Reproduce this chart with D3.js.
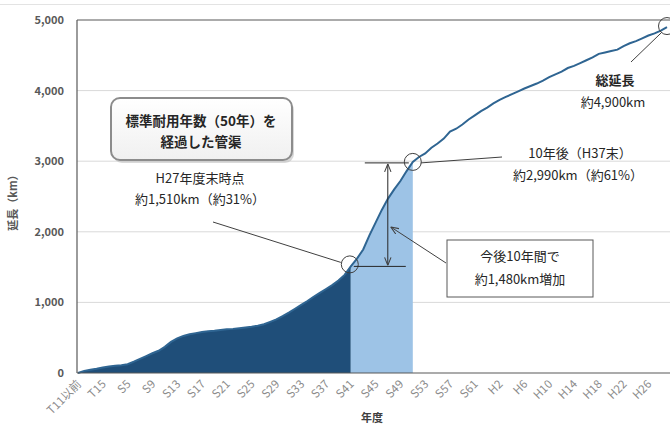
<!DOCTYPE html>
<html><head><meta charset="utf-8">
<script src="https://cdn.jsdelivr.net/npm/d3@7"></script>
<style>
body{margin:0;background:#fff}
svg text{font-family:"Noto Sans CJK JP","Lato",sans-serif}
</style>
</head><body>
<svg id="c" width="670" height="429"></svg>
<script>
// ---- data ----
const categories = ["T11以前","T12","T13","T14","T15",
 "S2","S3","S4","S5","S6","S7","S8","S9","S10","S11","S12","S13","S14","S15","S16","S17","S18","S19","S20",
 "S21","S22","S23","S24","S25","S26","S27","S28","S29","S30","S31","S32","S33","S34","S35","S36","S37","S38","S39","S40",
 "S41","S42","S43","S44","S45","S46","S47","S48","S49","S50","S51","S52","S53","S54","S55","S56","S57","S58","S59","S60",
 "S61","S62","S63","H1","H2","H3","H4","H5","H6","H7","H8","H9","H10","H11","H12","H13","H14","H15","H16","H17","H18",
 "H19","H20","H21","H22","H23","H24","H25","H26","H27","H28"];
// cumulative length (km) at end of each year
const cumulative = [30,45,60,78,92,
 102,110,125,160,200,240,280,315,370,440,490,525,550,565,580,592,600,610,
 618,625,635,645,655,670,690,725,760,805,855,910,965,1020,1080,1135,1190,1245,1310,1390,1510,
 1620,1750,1950,2130,2310,2470,2600,2720,2860,2990,3060,3110,3190,3250,3320,3420,3460,3520,3590,3650,
 3710,3760,3820,3870,3910,3950,3990,4030,4065,4100,4140,4190,4230,4270,4320,4350,4390,4430,4470,4520,
 4540,4560,4580,4630,4670,4700,4740,4780,4810,4850,4900];
const yTicks = [0,1000,2000,3000,4000,5000];
const tickLabels = ["T11以前","T15","S5","S9","S13","S17","S21","S25","S29","S33","S37","S41","S45","S49",
 "S53","S57","S61","H2","H6","H10","H14","H18","H22","H26"];
const cutNow = "S40", cutFuture = "S50";

// ---- chart ----
const svg = d3.select("#c");
const x = d3.scaleBand().domain(categories).range([78, 667]).padding(0);
const bw = x.bandwidth();
const y = d3.scaleLinear().domain([0, 5000]).range([373, 20]);

const pts = [{x: x(categories[0]), v: 0}].concat(categories.map((c, i) => ({x: x(c) + bw, v: cumulative[i], c})));
const iNow = categories.indexOf(cutNow) + 1, iFut = categories.indexOf(cutFuture) + 1;

// outer frame line
svg.append("line").attr("x1", 0).attr("x2", 670).attr("y1", 4.5).attr("y2", 4.5).attr("stroke", "#e3e3e3");

// gridlines
svg.append("g").selectAll("line").data(yTicks.filter(d => d > 0)).join("line")
  .attr("x1", 77).attr("x2", 670).attr("y1", d => y(d)).attr("y2", d => y(d))
  .attr("stroke", d => d === 5000 ? "#595959" : "#d9d9d9").attr("stroke-width", d => d === 5000 ? 1.2 : 1);

const area = d3.area().x(d => d.x).y0(y(0)).y1(d => y(d.v));
svg.append("path").datum(pts.slice(0, iNow + 1)).attr("d", area).attr("fill", "#1f4e79");
svg.append("path").datum(pts.slice(iNow, iFut + 1)).attr("d", area).attr("fill", "#9dc3e6");
svg.append("path").datum(pts).attr("d", d3.line().x(d => d.x).y(d => y(d.v)))
  .attr("fill", "none").attr("stroke", "#2f6592").attr("stroke-width", 2);

// axes
svg.append("line").attr("x1", 77).attr("x2", 670).attr("y1", y(0)).attr("y2", y(0)).attr("stroke", "#595959").attr("stroke-width", 1.2);
svg.append("line").attr("x1", 77).attr("x2", 77).attr("y1", y(5000)).attr("y2", y(0)).attr("stroke", "#595959").attr("stroke-width", 1.2);

const yAxis = svg.append("g").attr("transform", "translate(67,0)")
  .call(d3.axisLeft(y).tickValues(yTicks).tickSize(0).tickFormat(d3.format(",")));
yAxis.select(".domain").remove();
yAxis.selectAll("text").attr("font-size", 11).attr("fill", "#595959").attr("font-family", "Lato,sans-serif").attr("font-weight", "bold");

svg.append("g").selectAll("text").data(tickLabels).join("text")
  .attr("transform", d => `translate(${x(d) + bw / 2 - 2},382) rotate(-45)`)
  .attr("text-anchor", "end").attr("dy", "0.35em")
  .attr("font-size", 11.5).attr("fill", "#8c8c8c").text(d => d);

svg.append("text").attr("transform", "translate(17,200) rotate(-90)").attr("text-anchor", "middle")
  .attr("font-size", 11).attr("font-weight", "bold").attr("fill", "#595959").text("延長（km）");
svg.append("text").attr("x", 372).attr("y", 422).attr("text-anchor", "middle")
  .attr("font-size", 11).attr("font-weight", "bold").attr("fill", "#404040").text("年度");

// ---- annotations ----
const defs = svg.append("defs");
const grad = defs.append("linearGradient").attr("id", "g1").attr("x1", 0).attr("x2", 0).attr("y1", 0).attr("y2", 1);
grad.append("stop").attr("offset", "0%").attr("stop-color", "#ffffff");
grad.append("stop").attr("offset", "100%").attr("stop-color", "#f0f0f0");
defs.append("marker").attr("id", "ah").attr("viewBox", "0 0 10 10").attr("refX", 10).attr("refY", 5)
  .attr("markerWidth", 8).attr("markerHeight", 8).attr("orient", "auto-start-reverse").attr("markerUnits", "userSpaceOnUse")
  .append("path").attr("d", "M0,1 L10,5 L0,9").attr("fill", "none").attr("stroke", "#404040").attr("stroke-width", 1.3);

// rounded box
svg.append("rect").attr("x", 113).attr("y", 101).attr("width", 181).attr("height", 62).attr("rx", 9)
  .attr("fill", "#bfbfbf").attr("opacity", 0.6);
svg.append("rect").attr("x", 111).attr("y", 98).attr("width", 181).attr("height", 62).attr("rx", 9)
  .attr("fill", "url(#g1)").attr("stroke", "#8c8c8c").attr("stroke-width", 2);
const boxT = svg.append("text").attr("text-anchor", "middle").attr("font-size", 13.5).attr("font-weight", "bold").attr("fill", "#262626");
boxT.append("tspan").attr("x", 201).attr("y", 126).text("標準耐用年数（50年）を");
boxT.append("tspan").attr("x", 201).attr("y", 147).text("経過した管渠");

const pNow = pts[iNow], pFut = pts[iFut], pEnd = pts[pts.length - 1];
const circ = (p, dx, dy) => svg.append("circle").attr("cx", p.x + dx).attr("cy", y(p.v) + dy).attr("r", 8.5)
  .attr("fill", "none").attr("stroke", "#404040").attr("stroke-width", 1);

// H27 label
const t1 = svg.append("text").attr("text-anchor", "middle").attr("font-size", 13).attr("fill", "#262626");
t1.append("tspan").attr("x", 200).attr("y", 183).text("H27年度末時点");
t1.append("tspan").attr("x", 200).attr("y", 204).text("約1,510km（約31%）");
svg.append("line").attr("x1", 213).attr("y1", 222).attr("x2", pNow.x - 10).attr("y2", y(pNow.v) - 4).attr("stroke", "#404040");
circ(pNow, -1, -2);

// bracket
const xa = (pNow.x + pFut.x) / 2 + 6;
svg.append("line").attr("x1", pNow.x + 3).attr("x2", pFut.x - 7).attr("y1", y(pNow.v)).attr("y2", y(pNow.v)).attr("stroke", "#262626");
svg.append("line").attr("x1", pNow.x + 14).attr("x2", pFut.x - 4).attr("y1", y(pFut.v) + 1).attr("y2", y(pFut.v) + 1).attr("stroke", "#262626");
svg.append("line").attr("x1", xa).attr("x2", xa).attr("y1", y(pFut.v) + 2).attr("y2", y(pNow.v) - 1)
  .attr("stroke", "#262626").attr("marker-start", "url(#ah)").attr("marker-end", "url(#ah)");

// 10 years later
circ(pFut, 0, 0);
svg.append("line").attr("x1", pFut.x + 8).attr("y1", y(pFut.v) + 1).attr("x2", 502).attr("y2", 157).attr("stroke", "#404040");
const t2 = svg.append("text").attr("text-anchor", "middle").attr("font-size", 13).attr("fill", "#262626");
t2.append("tspan").attr("x", 580).attr("y", 158).text("10年後（H37末）");
t2.append("tspan").attr("x", 578).attr("y", 180).text("約2,990km（約61%）");

// increase box
svg.append("rect").attr("x", 447).attr("y", 240).attr("width", 146).attr("height", 57).attr("fill", "#fff").attr("stroke", "#595959").attr("stroke-width", 1);
const t3 = svg.append("text").attr("text-anchor", "middle").attr("font-size", 13).attr("fill", "#262626");
t3.append("tspan").attr("x", 520).attr("y", 261).text("今後10年間で");
t3.append("tspan").attr("x", 520).attr("y", 284).text("約1,480km増加");
svg.append("line").attr("x1", 446).attr("y1", 263).attr("x2", xa + 3).attr("y2", 227)
  .attr("stroke", "#404040").attr("marker-end", "url(#ah)");

// total
circ(pEnd, 0, -1);
svg.append("line").attr("x1", 631).attr("y1", 62).attr("x2", pEnd.x - 6).attr("y2", y(pEnd.v) + 6).attr("stroke", "#404040");
const t4 = svg.append("text").attr("text-anchor", "middle").attr("font-size", 13).attr("fill", "#262626");
t4.append("tspan").attr("x", 615).attr("y", 85).attr("font-weight", "bold").text("総延長");
t4.append("tspan").attr("x", 613).attr("y", 107).text("約4,900km");
</script>
</body></html>
